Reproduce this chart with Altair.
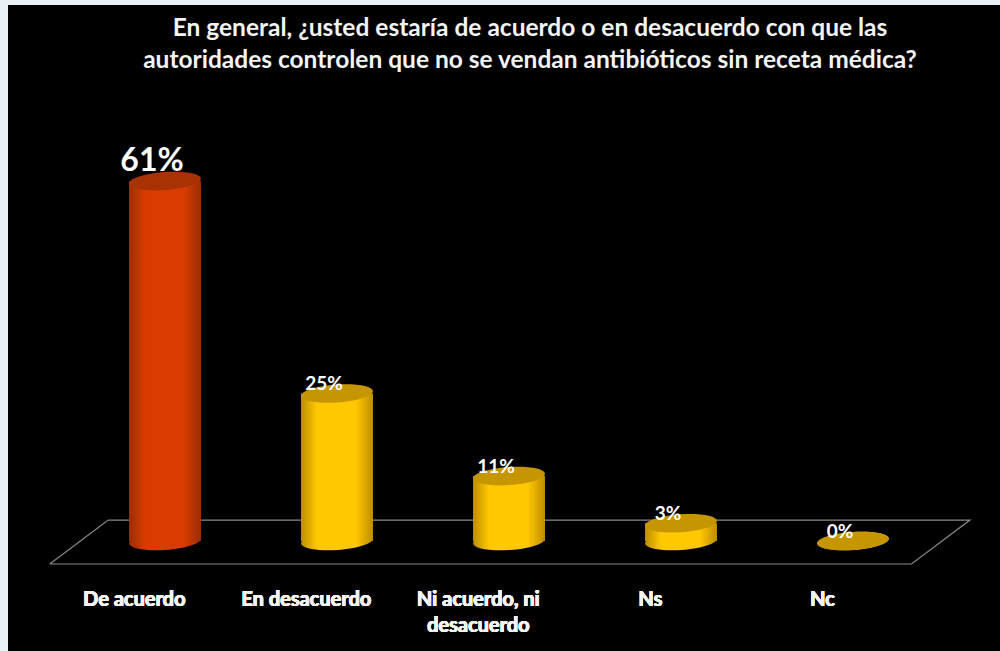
import altair as alt
import pandas as pd

# Survey answers and their shares (percent)
categories = ["De acuerdo", "En desacuerdo", "Ni acuerdo, ni\ndesacuerdo", "Ns", "Nc"]
shares = [61, 25, 11, 3, 0]
value_labels = ["61%", "25%", "11%", "3%", "0%"]
highlight = [True, False, False, False, False]

title_lines = [
    "En general, ¿usted estaría de acuerdo o en desacuerdo con que las",
    "autoridades controlen que no se vendan antibióticos sin receta médica?",
]

# Floor outline, in category-slot units along x and percent along y
floor_slot = [-0.67, -0.33, 4.68, 4.34, -0.67]
floor_share = [-3.9, 3.55, 3.55, -3.9, -3.9]
floor_step = [0, 1, 2, 3, 4]

FONT = "Lato"
ELLIPSE = "M-1,0A1,0.25 0 1,1 1,0A1,0.25 0 1,1 -1,0Z"
COLUMN_W = 72
X_RANGE = [71, 931]
Y_SCALE = alt.Scale(domain=[0, 61], range=[536, 176], nice=False, zero=False)

df = pd.DataFrame(
    {"cat": categories, "share": shares, "label": value_labels, "hi": highlight}
)
floor_df = pd.DataFrame({"slot": floor_slot, "share": floor_share, "step": floor_step})

x_enc = alt.X(
    "cat:N",
    sort=categories,
    scale=alt.Scale(domain=categories, range=X_RANGE),
    axis=alt.Axis(
        title=None,
        orient="bottom",
        offset=-52,
        domain=False,
        ticks=False,
        labelAngle=0,
        labelOffset=-31,
        labelColor="#f4f4f4",
        labelFont=FONT,
        labelFontWeight=700,
        labelFontSize=20,
        labelLineHeight=26,
        labelBaseline="middle",
        labelPadding=0,
        labelLimit=300,
        grid=False,
        labelExpr="split(datum.label, '\\n')",
    ),
)
y_enc = alt.Y("share:Q", scale=Y_SCALE, axis=None, stack=None)


def side_fill(edge, middle):
    return alt.LinearGradient(
        gradient="linear",
        x1=0,
        x2=1,
        y1=0,
        y2=0,
        stops=[
            alt.GradientStop(offset=0, color=edge),
            alt.GradientStop(offset=0.22, color=middle),
            alt.GradientStop(offset=0.76, color=middle),
            alt.GradientStop(offset=1, color=edge),
        ],
    )


def cylinder(subset, edge, middle, cap):
    """Body, rounded foot and flat top of one group of columns."""
    base = alt.Chart(df).transform_filter(subset)
    fill = side_fill(edge, middle)
    ellipse = dict(filled=True, shape=ELLIPSE, size=COLUMN_W**2, opacity=1, angle=356)
    body = base.mark_bar(size=COLUMN_W, color=fill).encode(
        x=x_enc, y=y_enc, y2=alt.Y2(datum=0)
    )
    foot = base.mark_point(color=fill, **ellipse).encode(
        x=x_enc, y=alt.Y(datum=0, scale=Y_SCALE, axis=None)
    )
    top = base.mark_point(color=cap, **ellipse).encode(x=x_enc, y=y_enc)
    return [foot, body, top]


floor = (
    alt.Chart(floor_df)
    .mark_line(color="#8a8a8a", strokeWidth=1.2)
    .encode(
        x=alt.X(
            "slot:Q",
            axis=None,
            scale=alt.Scale(domain=[-0.5, 4.5], range=X_RANGE, nice=False, zero=False),
        ),
        y=alt.Y("share:Q", scale=Y_SCALE, axis=None),
        order="step:Q",
    )
)

big_labels = (
    alt.Chart(df)
    .transform_filter("datum.hi")
    .mark_text(font=FONT, fontWeight=700, fontSize=32, color="white", dx=-13, dy=-20)
    .encode(x=x_enc, y=y_enc, text="label:N")
)
small_labels = (
    alt.Chart(df)
    .transform_filter("!datum.hi")
    .mark_text(font=FONT, fontWeight=700, fontSize=19, color="white", dx=-13, dy=-9)
    .encode(x=x_enc, y=y_enc, text="label:N")
)

columns = cylinder("datum.hi", "#9a2d02", "#d93b00", "#a93205") + cylinder(
    "!datum.hi", "#bd8d00", "#ffc800", "#c59600"
)

chart = (
    alt.layer(floor, *columns, big_labels, small_labels)
    .resolve_scale(x="independent")
    .properties(
        width=992,
        height=646,
        background="#e9f1f7",
        padding={"left": 8, "top": 5, "right": 0, "bottom": 0},
        autosize=alt.AutoSizeParams(type="none"),
        title=alt.TitleParams(
            text=title_lines,
            anchor="middle",
            orient="top",
            dx=26,
            offset=-68,
            color="#f4f4f4",
            font=FONT,
            fontWeight=700,
            fontSize=24.5,
            lineHeight=32,
        ),
    )
    .configure_view(fill="black", stroke=None)
)

chart.save("out.html", embed_options={"renderer": "svg", "actions": False})
